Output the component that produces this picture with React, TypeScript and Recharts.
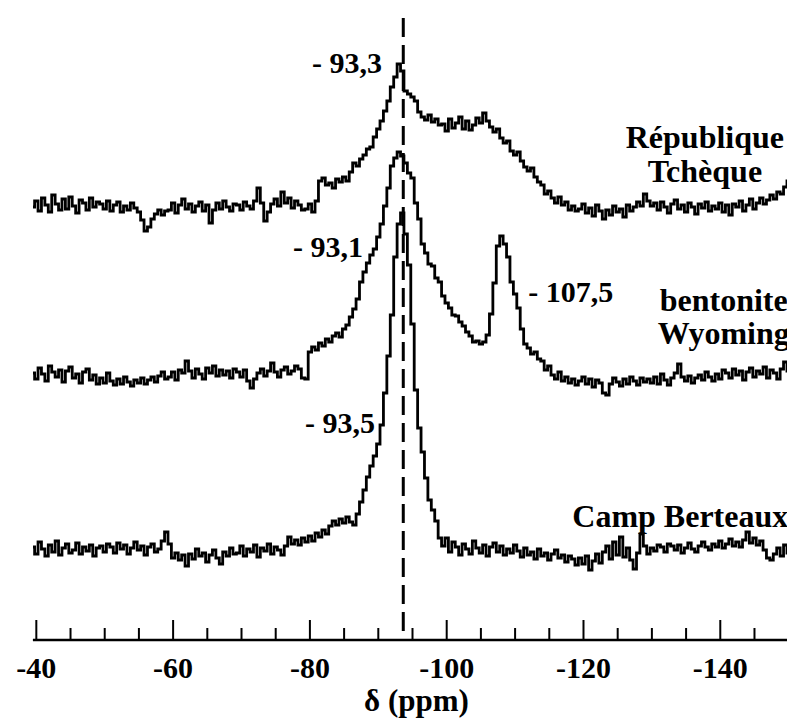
import React from 'react';
import { LineChart, Line, XAxis, YAxis, ReferenceLine, ReferenceDot } from 'recharts';

// chemical shift grid (ppm), 0.5 ppm step from -39.5 to -150.5
const PPM_START = -39.5;
const PPM_STEP = -0.5;

// République Tchèque (intensity above its own baseline)
const RT = [
  0.0, 0.6, -0.4, 0.9, 0.2, -0.5, 1.2, 0.3, -0.3, 0.8, -0.2, 1.0, 0.1, -0.6, 0.7, 0.4, -0.3, 0.9, 0.0, 0.5,
  0.3, -0.2, 0.6, -0.4, 0.2, 0.5, -0.5, 0.1, -0.3, 0.4, -0.1, -0.5, -1.3, -2.4, -2.0, -1.2, -0.7, -0.3, -0.8, -0.4,
  -0.3, 0.4, -0.6, 0.2, 0.8, -0.2, 0.3, -0.5, 0.1, 0.5, -0.4, 0.2, -1.6, -0.3, 0.4, -0.2, 0.6, 0.0, -0.4, 0.3,
  0.2, -0.3, 0.5, 0.1, -0.2, 0.6, 1.9, 0.4, -1.4, -0.5, 0.3, 0.8, 0.1, 1.5, 0.4, 0.9, -0.1, 0.6, 0.2, -0.3,
  -0.2, 0.3, -0.5, 0.6, 2.6, 2.9, 2.2, 2.4, 1.9, 2.8, 2.5, 3.0, 2.6, 3.5, 4.4, 4.1, 4.8, 5.2, 5.8, 6.0,
  7.0, 7.8, 8.6, 9.6, 10.6, 12.0, 13.0, 14.3, 13.6, 11.6, 11.3, 11.0, 10.6, 9.5, 9.0, 8.7, 9.2, 8.5, 8.8, 8.2,
  8.3, 7.6, 8.8, 7.9, 8.4, 9.0, 7.8, 8.6, 7.7, 8.2, 8.9, 8.4, 9.4, 8.6, 8.0, 7.5, 7.8, 6.9, 6.4, 6.6,
  5.6, 5.2, 5.5, 4.6, 4.0, 3.6, 3.9, 3.0, 2.5, 2.2, 1.3, 1.6, 0.9, 0.4, 1.0, 0.2, 0.5, -0.3, 0.1, -0.4,
  -0.2, 0.3, -0.6, -0.1, -0.9, 0.2, -0.4, -1.2, -0.3, -0.8, 0.1, -0.5, -0.2, -1.0, 0.2, -0.4, 0.0, 0.5, 0.1, 1.3,
  0.6, 0.1, 0.4, -0.3, 0.5, 0.0, -0.6, 0.3, 0.7, -0.2, 0.2, -0.5, 0.4, 0.0, -0.7, 0.3, -0.1, 0.5, -0.4, 0.1,
  -0.2, 0.4, -0.5, 0.2, -0.8, 0.3, 0.0, 0.6, -0.4, 0.2, 0.8, -0.2, 0.4, 0.9, 0.3, 0.7, 1.2, 0.8, 1.5, 1.3,
  2.0, 2.6, 2.3,
];

// bentonite Wyoming
const BW = [
  0.2, -0.4, 0.7, 0.1, -0.6, 0.9, 0.3, -0.2, 0.5, -0.7, 0.4, 0.8, -0.3, 0.1, -0.8, 0.3, 0.6, -0.5, 0.0, -0.9,
  -0.3, -0.8, 0.2, -0.6, -1.0, -0.4, -0.9, -0.2, -0.7, -1.1, -0.5, -0.8, -0.3, -0.9, -0.5, -0.2, -0.7, -0.1, 0.3, -0.4,
  -0.2, 0.3, -0.5, 0.5, 0.2, 1.4, 0.4, -0.3, 0.6, 0.1, -0.4, 0.7, 0.2, 0.9, -0.1, 0.5, 0.0, 0.4, -0.3, 0.6,
  0.3, -0.2, 0.5, -0.6, -1.3, -0.4, 0.2, 0.6, -0.1, 0.4, 1.2, 0.3, -0.2, 0.5, 0.8, 0.1, 0.4, 0.9, 0.6, -0.3,
  -0.4, 2.3, 2.8, 2.5, 3.2, 2.9, 3.6, 3.3, 3.9, 4.2, 3.8, 4.6, 5.0, 5.8, 6.6, 7.6, 9.3, 10.3, 11.2, 12.0,
  12.6, 13.8, 15.1, 16.9, 18.7, 20.9, 21.7, 22.3, 21.9, 21.2, 20.2, 19.7, 17.2, 15.6, 13.1, 12.2, 11.1, 10.9, 9.7, 9.3,
  7.9, 7.2, 6.7, 6.0, 5.9, 5.3, 4.9, 4.3, 3.9, 3.3, 3.4, 3.1, 3.3, 4.0, 6.1, 9.2, 12.9, 13.9, 13.1, 11.8,
  9.3, 8.1, 6.7, 4.6, 3.1, 2.7, 2.1, 2.3, 1.6, 1.4, 0.5, 0.9, 0.0, -0.4, 0.3, -0.6, -0.2, -0.8, -0.4, -1.0,
  -0.6, -0.2, -0.9, -0.4, -1.2, -0.5, -0.8, -1.8, -2.0, -0.9, -0.3, -0.7, -1.1, -0.4, -0.9, -0.2, -0.6, -1.0, -0.3, -0.7,
  -0.4, -0.8, -0.2, -0.9, 0.1, -0.5, -1.0, -0.3, 0.2, 1.1, -0.2, -0.6, -0.1, -0.8, -0.3, 0.0, -0.5, 0.3, -0.2, -0.6,
  0.1, -0.4, 0.5, 0.2, -0.3, 0.6, 0.0, 0.4, -0.5, 0.3, 0.7, -0.2, 0.4, 0.1, 0.8, -0.3, 0.5, 0.2, -0.4, 0.6,
  1.3, 0.4, 1.6,
];

// Camp Berteaux
const CB = [
  0.3, -0.4, 0.8, 0.1, -0.6, 0.5, -0.2, 0.9, -0.5, 0.2, 0.6, -0.3, 0.0, 0.7, -0.4, 0.3, -0.1, 0.5, -0.6, 0.2,
  0.4, -0.2, 0.6, 0.3, -0.3, 0.7, 0.1, 0.5, -0.4, 0.2, 0.8, 0.0, 0.4, -0.5, 0.3, 0.6, -0.2, 0.1, 0.9, 1.8,
  0.6, -0.8, -0.3, -1.0, -0.5, -1.6, -0.4, -0.9, 0.1, -0.6, -0.3, -1.2, -0.5, 0.0, -0.8, -1.4, -0.2, -0.6, 0.2, -0.4,
  -0.3, 0.4, -0.6, 0.1, -0.2, 0.5, -0.7, 0.2, -0.1, 0.6, -0.4, 0.3, 0.0, -0.5, 0.4, 1.3, 0.6, 1.0, 0.5, 1.2,
  0.8, 1.4, 0.9, 1.7, 1.3, 2.0, 1.6, 2.4, 2.9, 2.5, 3.1, 2.7, 3.3, 2.8, 2.5, 3.6, 4.8, 6.0, 7.3, 8.4,
  9.4, 10.6, 12.5, 15.7, 19.4, 23.5, 29.3, 32.6, 33.7, 31.6, 28.5, 22.6, 16.0, 12.2, 9.8, 7.2, 5.0, 4.0, 2.9, 1.2,
  0.4, 1.2, -0.2, 0.8, 0.3, -0.5, 0.6, 0.1, -0.4, 0.9, 0.2, -0.3, 0.5, -0.6, 0.3, 0.7, -0.2, 0.4, -0.5, 0.1,
  -0.3, 0.5, -0.1, -0.7, 0.2, -0.5, -0.2, -0.9, 0.1, -0.6, -0.3, -1.0, -0.4, 0.0, -0.8, -0.5, -1.2, -0.6, -0.9, -1.5,
  -0.8, -1.4, -0.6, -2.0, -1.1, -0.4, -1.3, -0.2, 0.4, -0.9, 0.8, -0.5, 1.3, -0.7, 0.2, -1.0, -1.9, -0.3, 1.6, 0.4,
  -0.4, 0.2, -0.1, 0.5, 0.3, -0.2, 0.6, 0.4, 0.0, 0.5, -0.3, 0.2, 0.7, 0.1, -0.2, 0.4, 0.8, 0.3, 0.0, 0.6,
  0.3, 0.9, 0.2, 0.6, 1.1, 0.4, 0.8, 0.3, 1.0, 1.8, 0.7, 1.2, 0.5, 0.9, 0.0, -0.8, -1.0, -0.4, 0.2, -0.6,
  0.5, -0.3, 0.4,
];

// vertical stacking offsets of the three spectra
const OFFSET_RT = 43.3;
const OFFSET_BW = 26.5;
const OFFSET_CB = 9.0;

const TICKS = [-40, -45, -50, -55, -60, -65, -70, -75, -80, -85, -90, -95, -100, -105, -110, -115, -120, -125, -130, -135, -140, -145, -150];
const MAJOR_TICKS = [-40, -60, -80, -100, -120, -140];
const PEAK_LINE = -93.65;

const PEAK_LABELS = ['- 93,3', '- 93,1', '- 93,5', '- 107,5'];
const SAMPLE_NAMES = [['République', 'Tchèque'], ['bentonite', 'Wyoming'], ['Camp Berteaux']];
const AXIS_TITLE = 'δ (ppm)';

const data = RT.map((v, i) => ({
  ppm: PPM_START + PPM_STEP * i,
  rt: v + OFFSET_RT,
  bw: BW[i] + OFFSET_BW,
  cb: CB[i] + OFFSET_CB,
}));

const FONT = 'Liberation Serif, Tinos, Times New Roman, Times, serif';
const textStyle = { fontFamily: FONT, fontWeight: 700 as const };

const AxisTick = (props: any) => {
  const { x, y, payload } = props;
  const v = payload.value;
  const major = MAJOR_TICKS.includes(v);
  return (
    <g>
      <line x1={x} y1={y} x2={x} y2={y - (major ? 20 : 12)} stroke="#000" strokeWidth={2} />
      {major && (
        <text x={x} y={y + 38} textAnchor="middle" style={textStyle} fontSize={30} fill="#000">
          {v}
        </text>
      )}
    </g>
  );
};

const makeLabel = (lines: string[], anchor: string, size: number, lineGap: number) => (props: any) => {
  const vb = props.viewBox || {};
  const x = (vb.x ?? vb.cx ?? 0) + (vb.width ?? 0) / 2;
  const y = (vb.y ?? vb.cy ?? 0) + (vb.height ?? 0) / 2;
  return (
    <text x={x} y={y} textAnchor={anchor as any} style={textStyle} fontSize={size} fill="#000">
      {lines.map((l, i) => (
        <tspan key={i} x={x} dy={i === 0 ? 0 : lineGap}>
          {l}
        </tspan>
      ))}
    </text>
  );
};

const AxisTitle = (props: any) => {
  const vb = props.viewBox || {};
  return (
    <text x={vb.x + vb.width / 2 + 4} y={vb.y + 71} textAnchor="middle" style={textStyle} fontSize={31} fill="#000">
      {AXIS_TITLE}
    </text>
  );
};

export default function App() {
  return (
    <LineChart width={787} height={712} data={data} margin={{ top: 2, right: 2.9, bottom: 0, left: 24.9 }}>
      <XAxis
        type="number"
        dataKey="ppm"
        domain={[-150.5, -39.5]}
        reversed
        allowDataOverflow
        ticks={TICKS}
        interval={0}
        tickLine={false}
        tickSize={0}
        tickMargin={0}
        tick={<AxisTick />}
        axisLine={{ stroke: '#000', strokeWidth: 2.7 }}
        height={80}
        label={AxisTitle}
      />
      <YAxis hide type="number" domain={[0, 63]} allowDataOverflow />
      <Line type="step" dataKey="rt" stroke="#000" strokeWidth={2.8} dot={false} activeDot={false} isAnimationActive={false} />
      <Line type="step" dataKey="bw" stroke="#000" strokeWidth={2.8} dot={false} activeDot={false} isAnimationActive={false} />
      <Line type="step" dataKey="cb" stroke="#000" strokeWidth={2.8} dot={false} activeDot={false} isAnimationActive={false} />
      <ReferenceLine
        segment={[{ x: PEAK_LINE, y: 62.2 }, { x: PEAK_LINE, y: 0.6 }]}
        stroke="#000"
        strokeWidth={3}
        strokeDasharray="19 8"
      />
      <ReferenceDot x={-90.54} y={56.7} r={0} fill="none" stroke="none" label={makeLabel([PEAK_LABELS[0]], 'end', 30, 0)} />
      <ReferenceDot x={-87.76} y={38.3} r={0} fill="none" stroke="none" label={makeLabel([PEAK_LABELS[1]], 'end', 30, 0)} />
      <ReferenceDot x={-89.51} y={20.7} r={0} fill="none" stroke="none" label={makeLabel([PEAK_LABELS[2]], 'end', 30, 0)} />
      <ReferenceDot x={-111.93} y={33.8} r={0} fill="none" stroke="none" label={makeLabel([PEAK_LABELS[3]], 'start', 30, 0)} />
      <ReferenceDot x={-137.75} y={49.2} r={0} fill="none" stroke="none" label={makeLabel(SAMPLE_NAMES[0], 'middle', 32, 34)} />
      <ReferenceDot x={-140.5} y={32.9} r={0} fill="none" stroke="none" label={makeLabel(SAMPLE_NAMES[1], 'middle', 32, 33)} />
      <ReferenceDot x={-134.15} y={11.3} r={0} fill="none" stroke="none" label={makeLabel(SAMPLE_NAMES[2], 'middle', 32, 0)} />
    </LineChart>
  );
}
